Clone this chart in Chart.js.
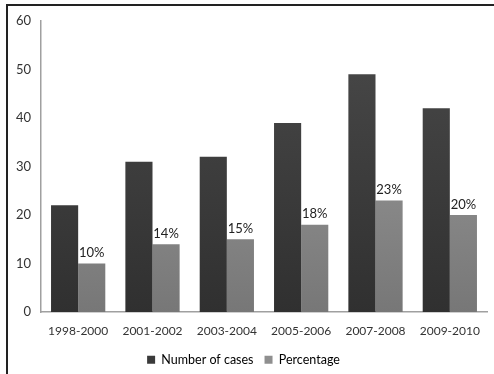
<!DOCTYPE html>
<html>
<head>
<meta charset="utf-8">
<script src="https://cdn.jsdelivr.net/npm/chart.js@4"></script>
<style>
  body { margin: 0; background: #fff; }
  #frame { position: absolute; left: 6px; top: 4px; width: 600px; height: 500px; border: 2px solid #222; }
  #wrap { position: absolute; left: 0; top: 0; width: 494px; height: 374px; }
</style>
</head>
<body>
<div id="frame"></div>
<div id="wrap"><canvas id="chart" width="494" height="374"></canvas></div>
<script>
const categories = ["1998-2000", "2001-2002", "2003-2004", "2005-2006", "2007-2008", "2009-2010"];
const cases = [22, 31, 32, 39, 49, 42];
const percentage = [10, 14, 15, 18, 23, 20];
const yTicks = [0, 10, 20, 30, 40, 50, 60];

const FONT = "Lato";

// Degradado vertical según el área del gráfico
const grad = (top, bottom) => (ctx) => {
  const area = ctx.chart.chartArea;
  if (!area) return top;
  const g = ctx.chart.ctx.createLinearGradient(0, area.top, 0, area.bottom);
  g.addColorStop(0, top);
  g.addColorStop(1, bottom);
  return g;
};

// Etiquetas de porcentaje encima de las barras claras
const pctLabels = {
  id: "pctLabels",
  afterDatasetsDraw(chart) {
    const ctx = chart.ctx;
    const meta = chart.getDatasetMeta(1);
    ctx.save();
    ctx.font = "13px " + FONT;
    ctx.fillStyle = "#222";
    ctx.textAlign = "center";
    ctx.textBaseline = "bottom";
    meta.data.forEach((bar, i) => {
      ctx.fillText(percentage[i] + "%", bar.x, bar.y - 4);
    });
    ctx.restore();
  },
};

new Chart(document.getElementById("chart"), {
  type: "bar",
  data: {
    labels: categories,
    datasets: [
      {
        label: "Number of cases",
        data: cases,
        backgroundColor: grad("#4a4a4a", "#303030"),
        borderWidth: 0,
      },
      {
        label: "Percentage",
        data: percentage,
        backgroundColor: grad("#a2a2a2", "#777777"),
        borderWidth: 0,
      },
    ],
  },
  options: {
    responsive: false,
    animation: false,
    layout: { padding: { top: 21, right: 7, left: 0, bottom: -2 } },
    categoryPercentage: 0.73,
    barPercentage: 1,
    plugins: {
      legend: {
        position: "bottom",
        labels: {
          boxWidth: 8,
          boxHeight: 8,
          color: "#333",
          font: { family: FONT, size: 12.5 },
          padding: 11,
          generateLabels: (chart) =>
            chart.data.datasets.map((ds, i) => ({
              text: ds.label,
              fillStyle: i === 0 ? "#3a3a3a" : "#8f8f8f",
              strokeStyle: i === 0 ? "#3a3a3a" : "#8f8f8f",
              lineWidth: 0,
              datasetIndex: i,
            })),
        },
      },
      tooltip: { enabled: false },
    },
    scales: {
      x: {
        grid: { display: false },
        border: { color: "#a0a0a0", width: 1.5 },
        ticks: { color: "#333", font: { family: FONT, size: 12 }, padding: 4 },
      },
      y: {
        min: 0,
        max: 60,
        afterBuildTicks: (scale) => { scale.ticks = yTicks.map((v) => ({ value: v })); },
        afterFit: (scale) => { scale.width = 41; },
        grid: { display: false },
        border: { color: "#a0a0a0", width: 1.5 },
        ticks: { color: "#333", font: { family: FONT, size: 13 }, padding: 2 },
      },
    },
  },
  plugins: [pctLabels],
});
</script>
</body>
</html>
